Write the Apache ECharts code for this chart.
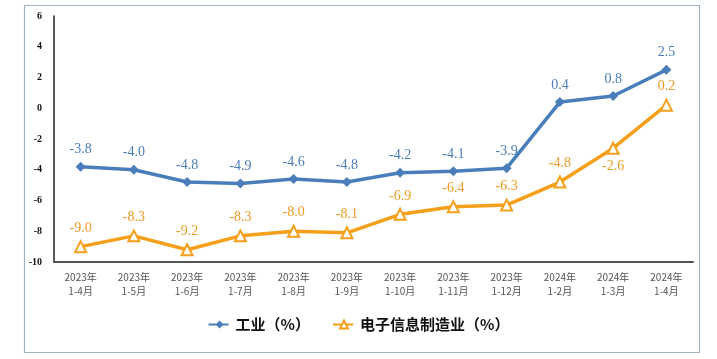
<!DOCTYPE html>
<html><head><meta charset="utf-8">
<script src="https://cdn.jsdelivr.net/npm/echarts@6/dist/echarts.min.js"></script>
<style>html,body{margin:0;padding:0;background:#fff}#c{width:717px;height:359px}</style>
</head><body><div id="c"></div>
<script>
const categories = ['2023年\n1-4月','2023年\n1-5月','2023年\n1-6月','2023年\n1-7月','2023年\n1-8月','2023年\n1-9月','2023年\n1-10月','2023年\n1-11月','2023年\n1-12月','2024年\n1-2月','2024年\n1-3月','2024年\n1-4月'];
const industry = [-3.8,-4.0,-4.8,-4.9,-4.6,-4.8,-4.2,-4.1,-3.9,0.4,0.8,2.5];
const electronics = [-9.0,-8.3,-9.2,-8.3,-8.0,-8.1,-6.9,-6.4,-6.3,-4.8,-2.6,0.2];
const seriesNames = ['工业（%）','电子信息制造业（%）'];

const chart = echarts.init(document.getElementById('c'));
const serif = '"Times New Roman","Liberation Serif",serif';
const fmt = p => Number(p.value).toFixed(1);
chart.setOption({
  animation:false,
  graphic:[{type:'rect',shape:{x:24.5,y:5.5,width:675,height:347},style:{fill:'none',stroke:'#9fb2c6',lineWidth:1.2},silent:true}],
  grid:{left:54,right:24,top:16,bottom:97},
  legend:{
    data:seriesNames, bottom:22, left:'center', itemWidth:22, itemHeight:10, itemGap:22,
    textStyle:{fontFamily:'"Noto Sans CJK SC",sans-serif',fontSize:15,fontWeight:'bold',color:'#111'},
    lineStyle:{type:'dashed',width:2}
  },
  xAxis:{type:'category',data:categories,boundaryGap:true,
    axisLine:{onZero:false,lineStyle:{color:'#555',width:2}},axisTick:{show:false},
    axisLabel:{fontFamily:'"Noto Sans CJK SC",sans-serif',fontSize:10,color:'#555',lineHeight:14,margin:8,interval:0}},
  yAxis:{type:'value',min:-10,max:6,interval:2,
    axisLine:{show:true,lineStyle:{color:'#222',width:1.5}},axisTick:{show:false},splitLine:{show:false},
    axisLabel:{fontFamily:serif,fontSize:10,fontWeight:'bold',color:'#111',margin:12}},
  series:[
    {name:seriesNames[0],type:'line',data:industry,symbol:'diamond',symbolSize:10,
      lineStyle:{color:'#4a7ebb',width:3.5},itemStyle:{color:'#4a7ebb'},
      label:{show:true,position:'top',distance:5,fontFamily:serif,fontSize:14,color:'#4a7ebb',formatter:fmt}},
    {name:seriesNames[1],type:'line',data:electronics.map((v,i)=>i===10?{value:v,label:{position:'bottom'}}:v),symbol:'triangle',symbolSize:11,
      lineStyle:{color:'#f59f1b',width:3.5},itemStyle:{color:'#fff',borderColor:'#f59f1b',borderWidth:2},
      label:{show:true,position:'top',distance:5,fontFamily:serif,fontSize:14,color:'#ef9a26',formatter:fmt}}
  ]
});
</script></body></html>
